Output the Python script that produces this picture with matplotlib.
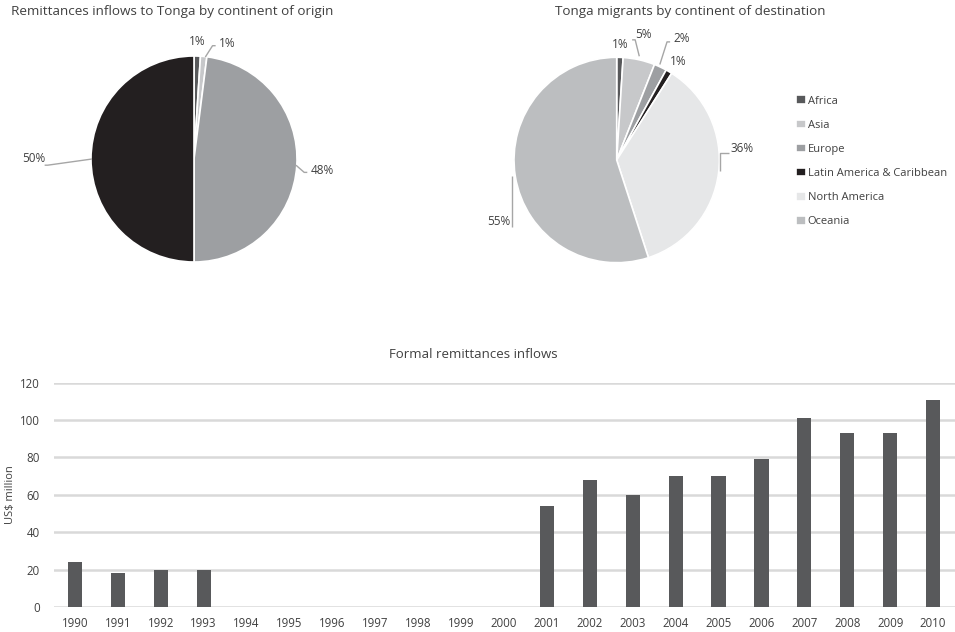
import numpy as np
import matplotlib
matplotlib.use("Agg")
import matplotlib.pyplot as plt

plt.rcParams['font.family'] = ['Open Sans', 'DejaVu Sans']
TXT = '#404040'

# pie 1: remittances by continent of origin (%)
origin_share = [1, 1, 48, 50]
origin_colors = ['#58595b', '#c7c8ca', '#9d9fa2', '#231f20']

# pie 2: migrants by continent of destination (%)
continents = ['Africa', 'Asia', 'Europe', 'Latin America & Caribbean',
              'North America', 'Oceania']
dest_share = [1, 5, 2, 1, 36, 55]
dest_colors = ['#58595b', '#c7c8ca', '#9d9fa2', '#231f20', '#e6e7e8', '#bcbec0']

# bar chart: formal remittance inflows, US$ million (0 = no data)
years = [str(y) for y in range(1990, 2011)]
inflows = [24, 18, 20, 20, 0, 0, 0, 0, 0, 0, 0,
           54, 68, 60, 70, 70, 79, 101, 93, 93, 111]

W, H = 955, 632
fig = plt.figure(figsize=(W / 100, H / 100), dpi=100)


def pie_axes(cx, cy, r, w, h):
    ax = fig.add_axes([(cx - w / 2) / W, 1 - (cy + h / 2) / H, w / W, h / H])
    return ax


def draw_pie(ax, values, colors, r, w, h):
    wedges, _ = ax.pie(values, colors=colors, startangle=90, counterclock=False,
                       radius=1, wedgeprops=dict(edgecolor='white', linewidth=1.2))
    ax.set_aspect('auto')
    ax.set_xlim(-w / 2 / r, w / 2 / r)
    ax.set_ylim(-h / 2 / r, h / 2 / r)
    ax.axis('off')
    return wedges


def draw_labels(ax, values, spots):
    # spots: (text centre x, y, leader points or None), in radius units
    for v, (tx, ty, lead) in zip(values, spots):
        if lead is not None:
            xs, ys = zip(*lead)
            ax.plot(xs, ys, color='#a6a6a6', lw=1, solid_capstyle='butt')
        ax.text(tx, ty, f'{v}%', ha='center', va='center', fontsize=8.5, color=TXT)


# ---- pie 1
ax1 = pie_axes(194, 159, 103, 380, 300)
w1 = draw_pie(ax1, origin_share, origin_colors, 103, 380, 300)
spots1 = [
    (0.03, 1.14, None),
    (0.32, 1.12, [(0.11, 0.99), (0.18, 1.10), (0.21, 1.10)]),
    (1.25, -0.11, [(0.99, -0.06), (1.07, -0.13), (1.10, -0.13)]),
    (-1.56, 0.00, [(-0.99, 0.00), (-1.42, -0.06), (-1.45, -0.06)]),
]
draw_labels(ax1, origin_share, spots1)

# ---- pie 2
ax2 = pie_axes(616.7, 160, 102.7, 300, 300)
w2 = draw_pie(ax2, dest_share, dest_colors, 102.7, 300, 300)
spots2 = [
    (0.03, 1.12, None),
    (0.26, 1.22, [(0.22, 1.01), (0.18, 1.17), (0.15, 1.17)]),
    (0.63, 1.18, [(0.42, 0.93), (0.49, 1.15), (0.52, 1.15)]),
    (0.60, 0.96, None),
    (1.22, 0.11, [(1.01, -0.11), (1.01, 0.07), (1.09, 0.07)]),
    (-1.15, -0.60, [(-1.02, -0.16), (-1.02, -0.65)]),
]
draw_labels(ax2, dest_share, spots2)

fig.legend(w2, continents, loc='upper left', bbox_to_anchor=(792 / W, 1 - 91 / H),
           frameon=False, fontsize=8, handlelength=0.85, handleheight=0.85,
           handletextpad=0.15, labelspacing=1.15, labelcolor=TXT, borderaxespad=0)

fig.text(172 / W, 1 - 12 / H, 'Remittances inflows to Tonga by continent of origin',
         ha='center', va='center', fontsize=9.7, color=TXT)
fig.text(690 / W, 1 - 12 / H, 'Tonga migrants by continent of destination',
         ha='center', va='center', fontsize=9.7, color=TXT)

# ---- bar chart
ax3 = fig.add_axes([53.5 / W, (H - 607) / H, 901 / W, (607 - 382.7) / H])
x = np.arange(len(years))
ax3.bar(x, inflows, width=0.33, color='#58595b', zorder=3)
ax3.set_xlim(-0.5, len(years) - 0.5)
ax3.set_ylim(0, 120)
ax3.set_yticks(np.arange(0, 121, 20))
ax3.set_xticks(x)
ax3.set_xticklabels(years)
ax3.grid(axis='y', color='#d9d9d9', lw=1.8, zorder=0)
for s in ax3.spines.values():
    s.set_visible(False)
ax3.tick_params(length=0, labelsize=8.3, colors=TXT, pad=7)
ax3.tick_params(axis='y', pad=10)
fig.text(11 / W, 1 - 495 / H, 'US$ million', rotation=90, ha='center', va='center',
         fontsize=8, color=TXT)
fig.text(473 / W, 1 - 354 / H, 'Formal remittances inflows', ha='center', va='center',
         fontsize=9.5, color=TXT)

fig.savefig('out.png', dpi=100)
